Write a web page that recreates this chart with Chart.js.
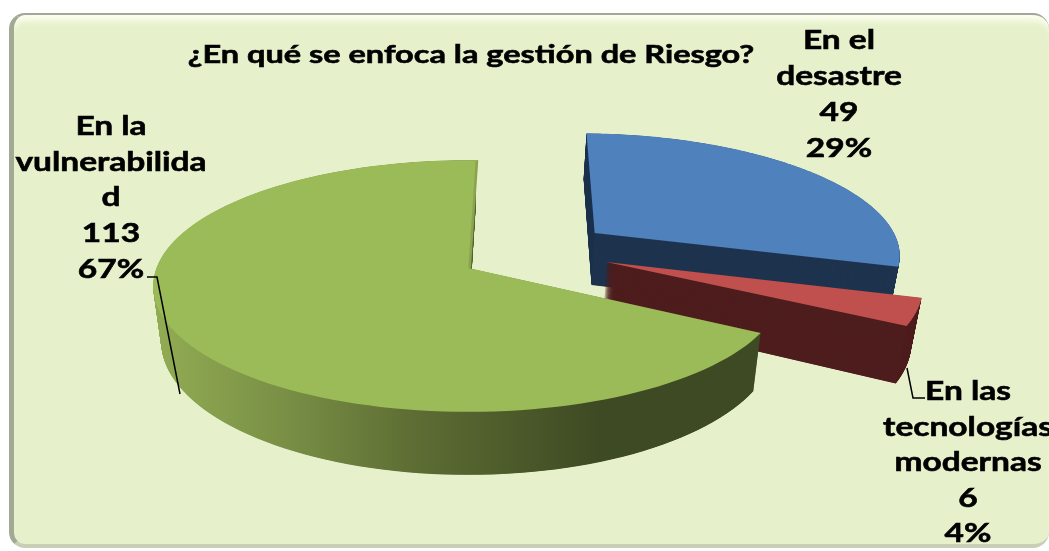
<!DOCTYPE html>
<html>
<head>
<meta charset="utf-8">
<script src="https://cdn.jsdelivr.net/npm/chart.js@4"></script>
<style>
  html, body { margin: 0; padding: 0; background: #fff; overflow: hidden; }
  #panel {
    position: absolute; left: 9px; top: 13px; width: 1040px; height: 535px;
    border-radius: 16px; background: #e6f1cc;
    border-top: 2px solid #a3a69a; border-left: 5px solid #a2aa93;
    border-bottom: 4px solid #c8cfb6; box-sizing: border-box;
    box-shadow: inset 0 9px 5px -3px #fafdeb;
  }
  canvas { position: absolute; left: 0; top: 0; }
</style>
</head>
<body>
<div id="panel"></div>
<canvas id="pieChart" width="1049" height="551"></canvas>
<script>
// Chart data
var titleText = '¿En qué se enfoca la gestión de Riesgo?';
var categories = [['En el', 'desastre'], ['En las', 'tecnologías', 'modernas'], ['En la', 'vulnerabilida', 'd']];
var values = [49, 6, 113];
var percents = ['29%', '4%', '67%'];

// Slice styles
var topColors = ['#4f81bd', '#c0504d', '#9bbb59'];
var sideColors = ['#1f344f', '#4f1e1e', null];
var explode = [[0.4165, -0.295], [0.44, -0.05], [-0.005, 0]];

// 3D look of the pie, in units of the library's radius
var stretchX = 1.164, stretchY = 0.46, tilt = 0.143, depth = 54, shrink = 0.025;

function project(arc, u, v, t) {
  var w = 1 - tilt * v;
  return [
    arc.x + arc.outerRadius * stretchX * u / w * (1 - shrink * t),
    arc.y + (arc.outerRadius * stretchY * v + depth * t) / w
  ];
}

function wedge(ctx, arc, shift, t) {
  var p = project(arc, shift[0], shift[1], t);
  ctx.beginPath();
  ctx.moveTo(p[0], p[1]);
  var n = 120;
  for (var i = 0; i <= n; i++) {
    var a = arc.startAngle + (arc.endAngle - arc.startAngle) * i / n;
    p = project(arc, shift[0] + Math.cos(a), shift[1] + Math.sin(a), t);
    ctx.lineTo(p[0], p[1]);
  }
  ctx.closePath();
}

// the picture's text is stretched sideways and looks heavy
function wideText(ctx, text, x, y, stretch) {
  ctx.save();
  ctx.translate(x, y);
  ctx.scale(stretch, 1);
  ctx.fillText(text, 0, 0);
  ctx.strokeText(text, 0, 0);
  ctx.restore();
}

var pie3d = {
  id: 'pie3d',
  beforeDatasetsDraw: function (chart) {
    var ctx = chart.ctx;
    var arcs = chart.getDatasetMeta(0).data;
    var sideGradient = ctx.createLinearGradient(150, 0, 790, 0);
    sideGradient.addColorStop(0, '#93ad54');
    sideGradient.addColorStop(0.2, '#7a9146');
    sideGradient.addColorStop(0.42, '#5d6c33');
    sideGradient.addColorStop(0.7, '#3e4a23');
    sideGradient.addColorStop(1, '#3e4a23');
    arcs.forEach(function (arc, i) {
      ctx.save();
      ctx.fillStyle = sideColors[i] || sideGradient;
      for (var s = 160; s >= 1; s--) {
        wedge(ctx, arc, explode[i], s / 160);
        ctx.fill();
      }
      if (i === 2) {
        // thin inner wall showing along the notch of the big slice
        var a = arc.endAngle;
        var p0 = project(arc, explode[i][0], explode[i][1], 0);
        var p1 = project(arc, explode[i][0] + Math.cos(a), explode[i][1] + Math.sin(a), 0);
        ctx.strokeStyle = '#8aa34f';
        ctx.lineWidth = 3;
        ctx.beginPath();
        ctx.moveTo(p0[0] + 1, p0[1]);
        ctx.lineTo(p1[0] + 1, p1[1]);
        ctx.stroke();
      }
      ctx.fillStyle = arc.options.backgroundColor;
      wedge(ctx, arc, explode[i], 0);
      ctx.fill();
      ctx.restore();
    });
    return false;
  },
  afterDraw: function (chart) {
    var ctx = chart.ctx;
    ctx.save();
    ctx.fillStyle = '#000';
    ctx.strokeStyle = '#000';
    ctx.lineWidth = 0.6;
    ctx.textAlign = 'center';
    ctx.textBaseline = 'alphabetic';

    ctx.font = 'bold 25px Lato';
    wideText(ctx, titleText, 471, 63, 1.3);

    // data labels: category lines, value, percentage
    var anchors = [[839, 48.5, 36.2], [968, 400, 35.5], [111, 135, 35.7]];
    ctx.font = 'bold 27px Lato';
    values.forEach(function (val, i) {
      var lines = categories[i].concat([String(val), percents[i]]);
      lines.forEach(function (line, j) {
        wideText(ctx, line, anchors[i][0], anchors[i][1] + j * anchors[i][2], 1.24);
      });
    });

    // leader lines
    ctx.lineWidth = 1.5;
    ctx.beginPath();
    ctx.moveTo(147, 277); ctx.lineTo(157, 277); ctx.lineTo(180, 394);
    ctx.moveTo(907, 368); ctx.lineTo(913, 398); ctx.lineTo(925, 398);
    ctx.stroke();
    ctx.restore();
  }
};

var myPieChart = new Chart(document.getElementById('pieChart').getContext('2d'), {
  type: 'pie',
  data: {
    labels: categories.map(function (c) { return c.join(' '); }),
    datasets: [{ data: values, backgroundColor: topColors, borderWidth: 0 }]
  },
  options: {
    responsive: false,
    animation: false,
    rotation: 1.5,
    layout: { padding: { right: 109, bottom: 15 } },
    plugins: { legend: { display: false }, tooltip: { enabled: false } }
  },
  plugins: [pie3d]
});
</script>
</body>
</html>
